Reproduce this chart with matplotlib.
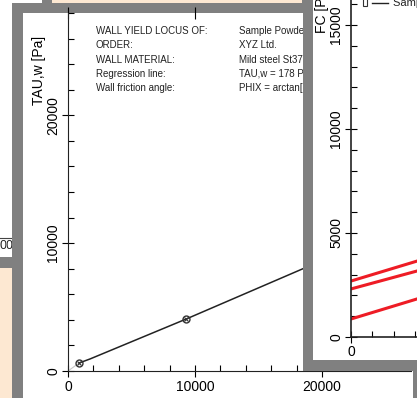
import matplotlib
matplotlib.use("Agg")
import matplotlib.pyplot as plt
from matplotlib.patches import Rectangle
from matplotlib.lines import Line2D
from matplotlib.ticker import MultipleLocator, FixedLocator

plt.rcParams['font.family'] = ['Liberation Sans', 'DejaVu Sans']

# wall yield locus (left window)
wall_sigma = [870, 9290]
wall_tau = [625, 4060]
locus_sigma = [870, 1730, 9290, 22000]
locus_tau = [625, 940, 4060, 9500]
info_keys = ['WALL YIELD LOCUS OF:', 'ORDER:', 'WALL MATERIAL:', 'Regression line:', 'Wall friction angle:']
info_vals = ['Sample Powder', 'XYZ Ltd.', 'Mild steel St37', 'TAU,w = 178 Pa + 0.418 * SIGMA,w', 'PHIX = arctan[0.418]']

# flow function (right window)
ff_sigma = [0, 3200]
ff_lines = [[2690, 3680], [2310, 3200], [865, 1860]]

W, H = 417, 398
GRAY = '#808080'
PEACH = '#fde8d2'

fig = plt.figure(figsize=(W / 100, H / 100), dpi=100)


def frac(x0, y0, x1, y1):
    # pixel box (y from top) -> figure fraction [l, b, w, h]
    return [x0 / W, 1 - y1 / H, (x1 - x0) / W, (y1 - y0) / H]


def rect(x0, y0, x1, y1, color, z):
    l, b, w, h = frac(x0, y0, x1, y1)
    fig.add_artist(Rectangle((l, b), w, h, transform=fig.transFigure,
                             fc=color, ec='none', zorder=z))


# bits of windows behind, left edge
rect(0, 257, 12, 268, GRAY, 1)
rect(0, 268, 12, 398, PEACH, 1)
fig.add_artist(Line2D([0, 12 / W], [1 - 238 / H] * 2, transform=fig.transFigure,
                      color='#444444', lw=0.8, zorder=1.2))
fig.text(14 / W, 1 - 246 / H, '00', ha='right', va='center', fontsize=9,
         color='#222222', zorder=1.5)

# left window frame
rect(12, 3, 417, 398, GRAY, 3)
rect(23, 13, 413, 398, 'white', 3.1)

# window on top edge
rect(42, 0, 310, 3, GRAY, 3.2)
rect(52, 0, 302, 3, PEACH, 3.3)

# left chart
ax1 = fig.add_axes(frac(68, 13, 411, 371))
ax1.set_zorder(4)
ax1.patch.set_visible(False)
ax1.set_xlim(0, 27000)
ax1.set_ylim(0, 28000)
ax1.plot([0, wall_sigma[0]], [0, wall_tau[0]], color='#c8c8c8', lw=0.8)
ax1.plot(locus_sigma, locus_tau, color='#222222', lw=1.1)
ax1.plot(wall_sigma, wall_tau, 'o', mfc='none', mec='#333333', ms=5, mew=1)
ax1.plot(wall_sigma, wall_tau, 'x', color='#333333', ms=2.5, mew=0.8)
for s in ['top', 'right']:
    ax1.spines[s].set_visible(False)
for s in ['left', 'bottom']:
    ax1.spines[s].set_color('#222222')
ax1.xaxis.set_major_locator(FixedLocator([0, 10000, 20000]))
ax1.yaxis.set_major_locator(FixedLocator([0, 10000, 20000]))
ax1.xaxis.set_minor_locator(MultipleLocator(2000))
ax1.yaxis.set_minor_locator(MultipleLocator(2000))
ax1.tick_params(which='major', direction='inout', length=9, width=0.8, labelsize=10, pad=1)
ax1.tick_params(which='minor', direction='in', length=4, width=0.8)
ax1.tick_params(axis='x', which='major', top=True, pad=2)
ax1.tick_params(axis='y', labelrotation=90)
for t in ax1.get_yticklabels():
    t.set_va('center')

fig.text(39 / W, 1 - 70 / H, 'TAU,w [Pa]', rotation=90, ha='center', va='center',
         fontsize=10, zorder=4.5)
for i, (k, v) in enumerate(zip(info_keys, info_vals)):
    y = 1 - (31 + 14.3 * i) / H
    fig.text(96 / W, y, k, fontsize=7, va='center', color='#222222', zorder=4.5)
    fig.text(239 / W, y, v, fontsize=7, va='center', color='#222222', zorder=4.5)

# right window
rect(303, 0, 417, 371, GRAY, 5)
rect(313, 0, 417, 360, 'white', 5.1)

ax2 = fig.add_axes(frac(351, 0, 417, 337))
ax2.set_zorder(6)
ax2.patch.set_visible(False)
ax2.set_xlim(0, 3100)
ax2.set_ylim(0, 16200)
for ys in ff_lines:
    ax2.plot(ff_sigma, ys, color='#ee1c25', lw=2.2, solid_capstyle='butt')
for s in ['top', 'right']:
    ax2.spines[s].set_visible(False)
for s in ['left', 'bottom']:
    ax2.spines[s].set_color('#222222')
    ax2.spines[s].set_linewidth(1.2)
ax2.xaxis.set_major_locator(FixedLocator([0, 5000]))
ax2.yaxis.set_major_locator(FixedLocator([0, 5000, 10000, 15000]))
ax2.xaxis.set_minor_locator(MultipleLocator(1000))
ax2.yaxis.set_minor_locator(MultipleLocator(1000))
ax2.tick_params(which='major', direction='inout', length=9, width=0.8, labelsize=10, pad=1)
ax2.tick_params(which='minor', direction='in', length=4, width=0.8)
ax2.tick_params(axis='y', labelrotation=90)
for t in ax2.get_yticklabels():
    t.set_va('center')

fig.text(322 / W, 1 - 33 / H, 'FC [Pa]', rotation=90, ha='center', va='bottom',
         fontsize=10, zorder=7)

# legend row at top of right window
l, b, w, h = frac(363, -3, 367, 6)
fig.add_artist(Rectangle((l, b), w, h, transform=fig.transFigure,
                         fc='white', ec='#333333', lw=0.8, zorder=7))
fig.add_artist(Line2D([372 / W, 388 / W], [1 - 3 / H] * 2, transform=fig.transFigure,
                      color='#222222', lw=1, zorder=7))
fig.text(393 / W, 1 - 3 / H, 'Sample Powder', fontsize=8, va='center', color='#222222', zorder=7)

fig.savefig('out.png', dpi=100)
